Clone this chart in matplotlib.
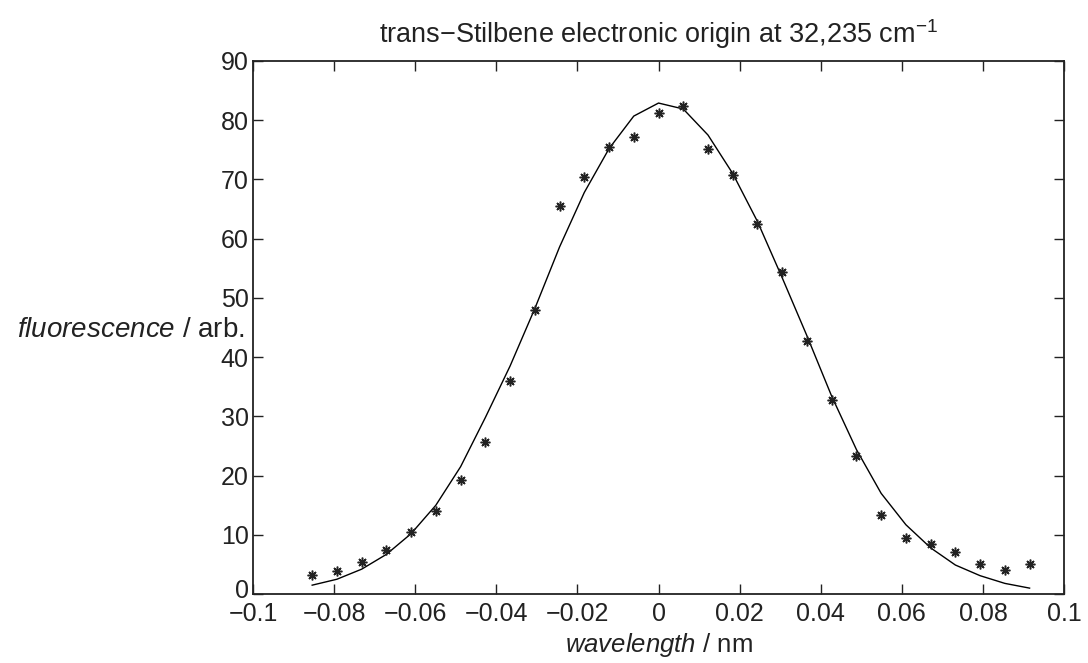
import numpy as np
import matplotlib
matplotlib.use("Agg")
import matplotlib.pyplot as plt
import matplotlib.transforms as mtransforms

plt.rcParams['font.family'] = ['Liberation Sans', 'DejaVu Sans']
plt.rcParams['mathtext.fontset'] = 'custom'
plt.rcParams['mathtext.rm'] = 'Liberation Sans'
plt.rcParams['mathtext.it'] = 'Liberation Sans:italic'

# --- datos ---
step = 0.0061
k = np.arange(-14, 16)
wavelength = k * step

fluor_meas = [3.2, 3.9, 5.4, 7.5, 10.4, 14.0, 19.3, 25.6, 36.0, 48.0,
              65.6, 70.4, 75.5, 77.1, 81.2, 82.4, 75.1, 70.7, 62.5, 54.3,
              42.8, 32.8, 23.3, 13.4, 9.4, 8.5, 7.1, 5.0, 4.0, 5.0]

fluor_fit = [1.5, 2.5, 4.2, 6.7, 10.2, 15.0, 21.5, 29.8, 38.5, 48.2,
             58.6, 67.8, 75.2, 80.7, 82.9, 81.9, 77.5, 71.0, 62.9, 53.4,
             43.6, 33.4, 24.4, 17.0, 11.7, 7.8, 4.9, 3.1, 1.8, 1.0]

xticks = [-0.1, -0.08, -0.06, -0.04, -0.02, 0, 0.02, 0.04, 0.06, 0.08, 0.1]
xticklabels = ['\u22120.1', '\u22120.08', '\u22120.06', '\u22120.04', '\u22120.02',
               '0', '0.02', '0.04', '0.06', '0.08', '0.1']
yticks = np.arange(0, 100, 10)

fig = plt.figure(figsize=(10.88, 6.63), dpi=100)
ax = fig.add_axes([0.2325, 0.104, 0.7455, 0.804])

ax.plot(wavelength, fluor_fit, color='black', lw=1.0)
ax.plot(wavelength, fluor_meas, linestyle='none', marker=(8, 2, 0),
        ms=7, mew=1.1, color='#222222')

ax.set_xlim(-0.1, 0.1)
ax.set_ylim(0, 90)
ax.set_xticks(xticks)
ax.set_xticklabels(xticklabels)
ax.set_yticks(yticks)
ax.tick_params(direction='in', length=7, width=1, top=True, right=True,
               labelsize=18, colors='#222222')
ax.tick_params(axis='x', pad=6)
ax.tick_params(axis='y', pad=3)
for s in ax.spines.values():
    s.set_linewidth(1.3)
    s.set_color('#222222')

# subir un poco la etiqueta "0" para que no choque con "-0.1"
lbl0 = ax.get_yticklabels()[0]
lbl0.set_transform(lbl0.get_transform() +
                   mtransforms.ScaledTranslation(0, 4 / 72, fig.dpi_scale_trans))

ax.set_title('trans\u2212Stilbene electronic origin at 32,235 cm$^{\\mathregular{\u22121}}$',
             fontsize=19.5, color='#222222', pad=13)
ax.set_xlabel('$\\it{wavelength\\ /}$ nm', fontsize=18.5, color='#222222', labelpad=3)
fig.text(0.225, 0.503, '$\\it{fluorescence}$ / arb.', fontsize=20, color='#222222',
         ha='right', va='center')

fig.savefig('out.png', dpi=100)
